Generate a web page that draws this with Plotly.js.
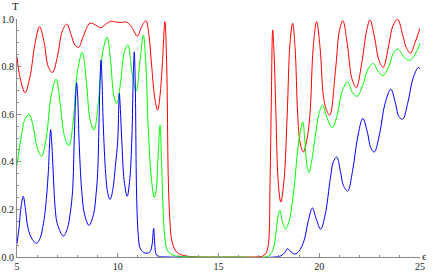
<!DOCTYPE html>
<html>
<head>
<meta charset="utf-8">
<script src="https://cdn.plot.ly/plotly-3.0.1.min.js"></script>
<style>html,body{margin:0;padding:0;background:#fff;}#plot{width:436px;height:273px;}</style>
</head>
<body>
<div id="plot"></div>
<script>
// Red curve (T vs epsilon)
var redX = [5.00,5.15,5.40,5.65,5.90,6.12,6.35,6.55,6.76,7.00,7.25,7.47,7.70,7.88,8.06,8.30,8.62,8.90,9.15,9.40,9.65,9.90,10.15,10.44,10.70,10.97,11.20,11.40,11.55,11.68,11.85,11.98,12.10,12.21,12.34,12.43,12.51,12.59,12.68,12.84,13.00,13.20,13.50,14.00,15.00,16.00,17.00,17.20,17.35,17.47,17.56,17.62,17.69,17.76,17.85,17.96,18.09,18.25,18.41,18.55,18.68,18.80,18.93,19.05,19.21,19.40,19.54,19.70,19.87,20.05,20.20,20.35,20.52,20.80,21.00,21.17,21.40,21.62,21.84,22.10,22.35,22.52,22.75,22.95,23.17,23.45,23.65,23.89,24.15,24.32,24.52,24.75,25.00];
var redY = [0.840,0.755,0.690,0.760,0.900,0.968,0.900,0.800,0.775,0.840,0.950,0.978,0.930,0.890,0.881,0.930,0.982,0.975,0.963,0.978,0.990,0.988,0.985,0.987,0.965,0.928,0.970,0.993,0.930,0.806,0.660,0.617,0.680,0.806,0.989,0.806,0.320,0.150,0.070,0.030,0.015,0.008,0.003,0.0005,0,0,0.001,0.004,0.015,0.050,0.320,0.650,0.954,0.850,0.600,0.320,0.231,0.320,0.600,0.900,0.982,0.880,0.600,0.480,0.441,0.500,0.600,0.880,0.989,0.870,0.680,0.620,0.596,0.780,0.950,0.993,0.890,0.750,0.712,0.810,0.950,0.996,0.920,0.830,0.797,0.890,0.970,0.999,0.930,0.880,0.856,0.900,0.961];

// Green curve
var greenX = [5.00,5.20,5.40,5.60,5.80,6.00,6.22,6.45,6.70,6.94,7.15,7.35,7.58,7.80,8.00,8.24,8.45,8.62,8.82,9.05,9.25,9.47,9.65,9.80,9.95,10.15,10.32,10.50,10.70,10.92,11.10,11.27,11.40,11.52,11.68,11.81,11.92,11.98,12.10,12.18,12.25,12.34,12.45,12.60,12.80,13.10,14.00,16.00,17.30,17.55,17.72,17.85,17.95,18.05,18.18,18.33,18.50,18.71,18.85,18.98,19.18,19.30,19.40,19.49,19.62,19.79,19.98,20.17,20.40,20.65,20.90,21.15,21.41,21.65,21.88,22.15,22.42,22.68,22.92,23.17,23.45,23.70,23.92,24.20,24.48,24.75,25.00];
var greenY = [0.385,0.500,0.580,0.599,0.550,0.460,0.423,0.500,0.680,0.747,0.640,0.510,0.467,0.580,0.780,0.860,0.730,0.580,0.533,0.660,0.860,0.924,0.820,0.680,0.645,0.740,0.860,0.892,0.780,0.697,0.820,0.933,0.800,0.530,0.320,0.250,0.290,0.385,0.554,0.385,0.200,0.080,0.030,0.015,0.006,0.002,0,0,0,0.008,0.035,0.100,0.170,0.196,0.145,0.118,0.150,0.259,0.380,0.483,0.568,0.470,0.380,0.355,0.400,0.500,0.600,0.638,0.580,0.544,0.600,0.700,0.736,0.690,0.675,0.720,0.790,0.813,0.780,0.762,0.800,0.860,0.873,0.840,0.826,0.850,0.898];

// Blue curve
var blueX = [5.00,5.10,5.20,5.31,5.42,5.55,5.75,5.98,6.15,6.31,6.42,6.55,6.62,6.67,6.73,6.80,6.89,7.00,7.30,7.50,7.65,7.76,7.84,7.90,7.96,8.02,8.08,8.21,8.35,8.57,8.80,8.93,9.00,9.07,9.12,9.17,9.22,9.28,9.40,9.50,9.62,9.75,9.88,10.00,10.05,10.08,10.13,10.20,10.32,10.47,10.60,10.70,10.77,10.82,10.87,10.94,11.02,11.10,11.27,11.45,11.60,11.70,11.78,11.84,11.90,12.00,12.50,17.80,18.10,18.30,18.43,18.55,18.80,19.00,19.25,19.45,19.66,19.85,20.07,20.30,20.55,20.70,20.87,21.05,21.20,21.41,21.65,21.90,22.16,22.40,22.55,22.73,23.00,23.25,23.55,23.80,23.95,24.14,24.40,24.65,24.92,25.00];
var blueY = [0.056,0.120,0.210,0.255,0.200,0.120,0.075,0.058,0.080,0.140,0.210,0.350,0.480,0.535,0.470,0.350,0.210,0.140,0.088,0.120,0.190,0.280,0.490,0.650,0.732,0.660,0.490,0.280,0.180,0.133,0.180,0.270,0.350,0.560,0.740,0.827,0.740,0.560,0.350,0.270,0.242,0.280,0.380,0.490,0.630,0.687,0.620,0.490,0.320,0.255,0.330,0.500,0.760,0.862,0.720,0.246,0.090,0.040,0.020,0.016,0.022,0.050,0.120,0.050,0.012,0.003,0,0,0.005,0.020,0.035,0.025,0.012,0.025,0.070,0.150,0.206,0.160,0.117,0.180,0.330,0.400,0.420,0.360,0.300,0.277,0.360,0.500,0.582,0.520,0.460,0.441,0.520,0.640,0.705,0.640,0.590,0.579,0.650,0.750,0.797,0.790];

var xTickVals = [5,10,15,20,25];
var xTickText = ["5","10","15","20","25"];
var yTickVals = [0,0.2,0.4,0.6,0.8,1.0];
var yTickText = ["0.0","0.2","0.4","0.6","0.8","1.0"];

var axisCol = '#8a8a8a';
var fontFam = '"Liberation Serif", "DejaVu Serif", serif';

function curve(x, y, col) {
  return {x: x, y: y, type: 'scatter', mode: 'lines',
          line: {color: col, width: 1, shape: 'spline', smoothing: 1},
          hoverinfo: 'skip', showlegend: false, cliponaxis: false};
}

var data = [
  curve(redX, redY, 'rgb(255,0,0)'),
  curve(greenX, greenY, 'rgb(0,255,0)'),
  curve(blueX, blueY, 'rgb(0,0,255)')
];

var layout = {
  width: 436, height: 273,
  margin: {l: 17, r: 16, t: 19, b: 16, pad: 0},
  paper_bgcolor: '#fff', plot_bgcolor: '#fff',
  showlegend: false,
  xaxis: {
    range: [5, 25], tickmode: 'array', tickvals: xTickVals, ticktext: xTickText,
    ticks: 'inside', ticklen: 4, tickwidth: 1, tickcolor: axisCol,
    showline: true, linecolor: axisCol, linewidth: 1,
    showgrid: false, zeroline: false,
    tickfont: {family: fontFam, size: 10, color: '#222'},
    minor: {dtick: 1, tick0: 5, ticks: 'inside', ticklen: 2, tickcolor: axisCol, showgrid: false}
  },
  yaxis: {
    range: [0, 1], tickmode: 'array', tickvals: yTickVals, ticktext: yTickText,
    ticks: 'inside', ticklen: 4, tickwidth: 1, tickcolor: axisCol,
    showline: true, linecolor: axisCol, linewidth: 1,
    showgrid: false, zeroline: false,
    tickfont: {family: fontFam, size: 10, color: '#222'},
    minor: {dtick: 0.05, tick0: 0, ticks: 'inside', ticklen: 2, tickcolor: axisCol, showgrid: false}
  },
  annotations: [
    {text: 'T', xref: 'paper', yref: 'paper', x: -0.0025, y: 1.055, showarrow: false,
     xanchor: 'center', yanchor: 'middle', font: {family: fontFam, size: 11, color: '#222'}},
    {text: 'ϵ', xref: 'paper', yref: 'paper', x: 1.012, y: 0.005, showarrow: false,
     xanchor: 'center', yanchor: 'middle', font: {family: fontFam, size: 11, color: '#222'}}
  ]
};

Plotly.newPlot('plot', data, layout, {displayModeBar: false, staticPlot: true});
</script>
</body>
</html>
